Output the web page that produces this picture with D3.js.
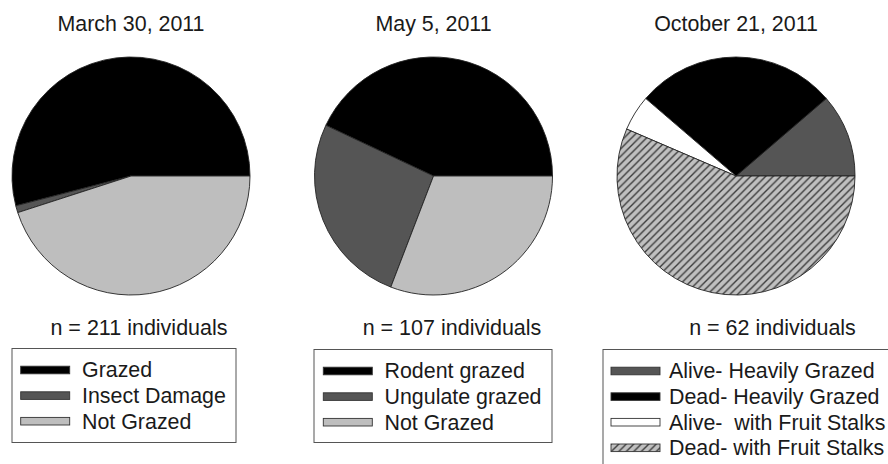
<!DOCTYPE html>
<html>
<head>
<meta charset="utf-8">
<script src="https://cdn.jsdelivr.net/npm/d3@7"></script>
<style>
  html, body { margin: 0; padding: 0; background: #fff; }
  svg { display: block; }
  text { font-family: "Liberation Sans", Arial, sans-serif; fill: #1a1a1a; white-space: pre; }
</style>
</head>
<body>
<svg id="chart" width="888" height="464"></svg>
<script>
// ---- data ----
const titles = ["March 30, 2011", "May 5, 2011", "October 21, 2011"];
const sampleSizes = [211, 107, 62];

const marchCategories = ["Grazed", "Insect Damage", "Not Grazed"];
const marchValues = [114, 2, 95];

const mayCategories = ["Rodent grazed", "Ungulate grazed", "Not Grazed"];
const mayValues = [46, 28, 33];

const octCategories = ["Alive- Heavily Grazed", "Dead- Heavily Grazed", "Alive-  with Fruit Stalks", "Dead- with Fruit Stalks"];
const octValues = [7, 17, 3, 35];

// ---- styles ----
const fills = [
  ["#000000", "#555555", "#bebebe"],
  ["#000000", "#555555", "#bebebe"],
  ["#555555", "#000000", "#ffffff", "url(#hatch)"]
];

const panels = [
  { cats: marchCategories, vals: marchValues, cx: 131, nx: 139, lx: 12, lw: 224, ly: 348.5, lh: 94, sx: 20.7, tx: 82 },
  { cats: mayCategories, vals: mayValues, cx: 433.5, nx: 452, lx: 314, lw: 238, ly: 349.5, lh: 93, sx: 323.3, tx: 384.5 },
  { cats: octCategories, vals: octValues, cx: 736, nx: 772.5, lx: 603, lw: 320, ly: 349.5, lh: 130, sx: 611, tx: 669 }
];

const svg = d3.select("#chart");
const defs = svg.append("defs");
const pat = defs.append("pattern")
  .attr("id", "hatch")
  .attr("patternUnits", "userSpaceOnUse")
  .attr("width", 7.5).attr("height", 7.5);
pat.append("rect").attr("width", 7.5).attr("height", 7.5).attr("fill", "#c0c0c0");
pat.append("path")
  .attr("d", "M-1.875,1.875 L1.875,-1.875 M0,7.5 L7.5,0 M5.625,9.375 L9.375,5.625")
  .attr("stroke", "#3c3c3c").attr("stroke-width", 1.4);

const R = 119;
const cy = 176;
const pie = d3.pie().sort(null).value(d => d)
  .startAngle(Math.PI / 2).endAngle(Math.PI / 2 - 2 * Math.PI);
const arc = d3.arc().innerRadius(0).outerRadius(R);

panels.forEach((p, i) => {
  const g = svg.append("g").attr("transform", `translate(${p.cx},${cy})`);
  g.selectAll("path")
    .data(pie(p.vals))
    .join("path")
    .attr("d", arc)
    .attr("fill", (d, j) => fills[i][j])
    .attr("stroke", "#222")
    .attr("stroke-width", 0.9)
    .attr("stroke-linejoin", "round");

  svg.append("text")
    .attr("x", p.cx).attr("y", 31)
    .attr("text-anchor", "middle")
    .attr("font-size", 21.4)
    .text(titles[i]);

  svg.append("text")
    .attr("x", p.nx).attr("y", 334.5)
    .attr("text-anchor", "middle")
    .attr("font-size", 21.5)
    .text(`n = ${sampleSizes[i]} individuals`);

  // legend
  const lg = svg.append("g");
  lg.append("rect")
    .attr("x", p.lx).attr("y", p.ly)
    .attr("width", p.lw).attr("height", p.lh)
    .attr("fill", "none").attr("stroke", "#555").attr("stroke-width", 1);
  const rows = lg.selectAll("g.row")
    .data(p.cats)
    .join("g")
    .attr("class", "row")
    .attr("transform", (d, j) => `translate(0,${p.ly + 21.5 + j * 25.6})`);
  rows.append("rect")
    .attr("x", p.sx).attr("y", -3.8)
    .attr("width", 49).attr("height", 7.6)
    .attr("fill", (d, j) => fills[i][j])
    .attr("stroke", "#333").attr("stroke-width", 0.9);
  rows.append("text")
    .attr("x", p.tx).attr("y", 7.3)
    .attr("font-size", 21.4)
    .text(d => d);
});
</script>
</body>
</html>
